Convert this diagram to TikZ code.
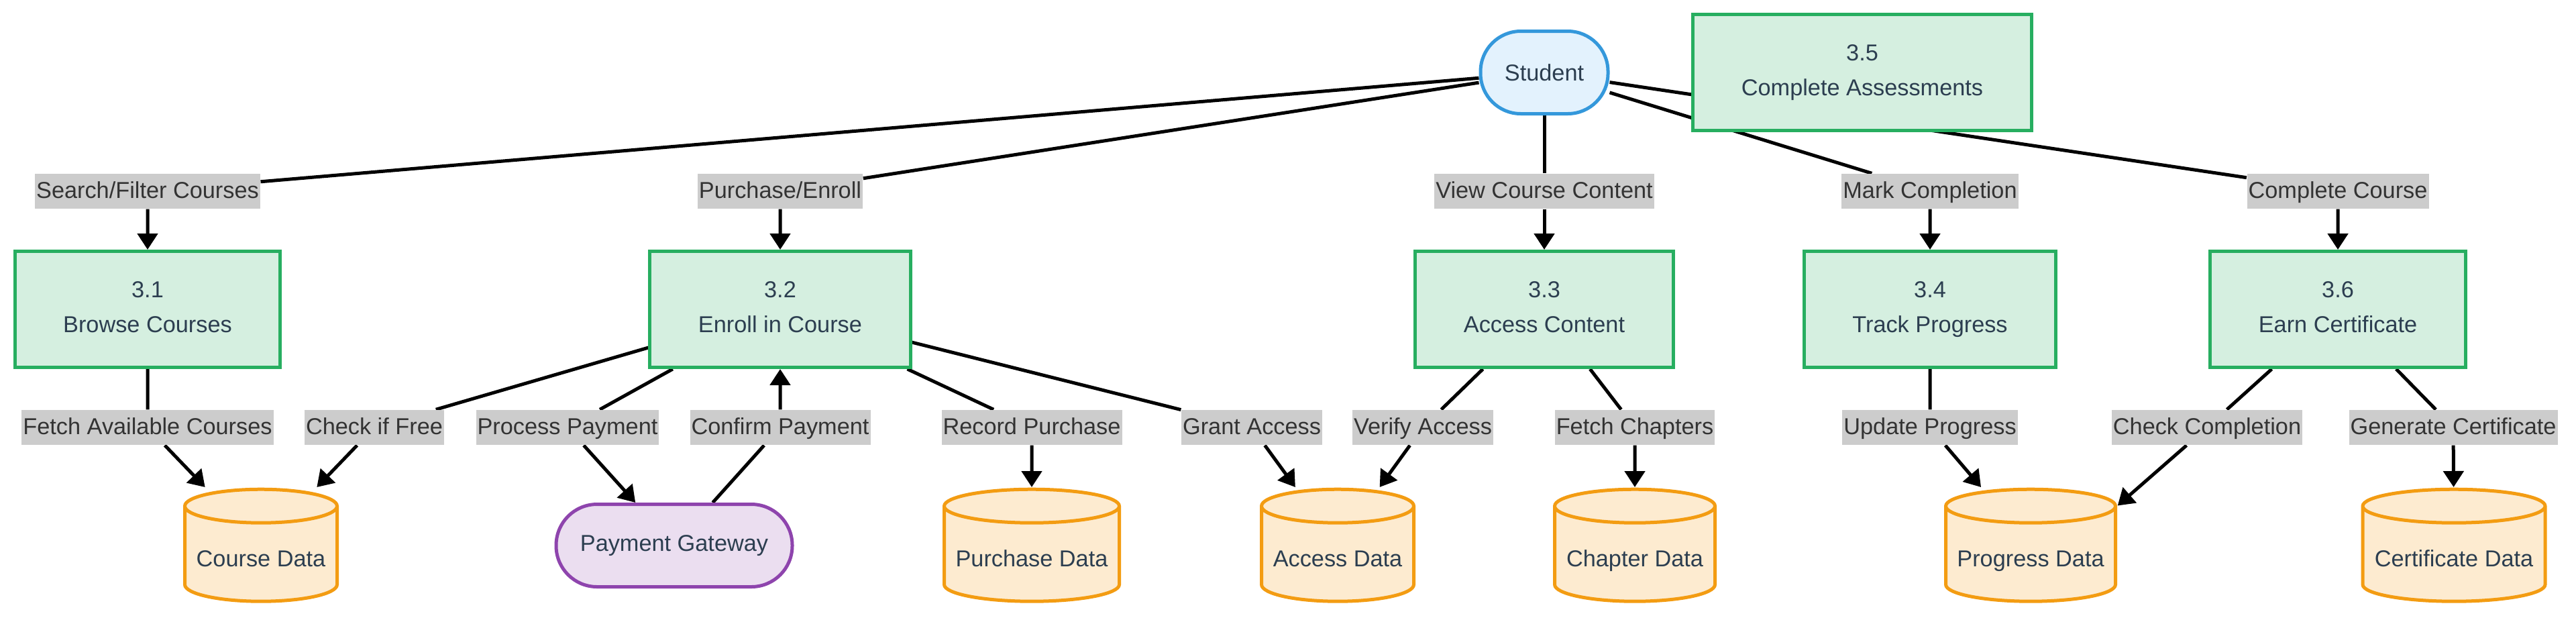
\documentclass[tikz,border=0pt]{standalone}
\usepackage{fontspec}
\setmainfont{Liberation Sans}
\usetikzlibrary{arrows.meta,backgrounds}

\definecolor{procfill}{HTML}{D5EFE0}
\definecolor{procline}{HTML}{27AE60}
\definecolor{actfill}{HTML}{E3F2FD}
\definecolor{actline}{HTML}{3498DB}
\definecolor{payfill}{HTML}{EBDEF0}
\definecolor{payline}{HTML}{8E44AD}
\definecolor{storefill}{HTML}{FDEBD0}
\definecolor{storeline}{HTML}{F39C12}
\definecolor{nodetext}{HTML}{2C3E50}
\definecolor{labelfill}{HTML}{CCCCCC}
\definecolor{labeltext}{HTML}{333333}

\begin{document}
\begin{tikzpicture}[font=\fontsize{9.76pt}{14.8pt}\selectfont]
    \tikzset{process/.style={draw=procline, fill=procfill, line width=0.5mm, text=nodetext,
                 align=center, inner xsep=7.2mm, minimum height=17.3mm,
                 execute at begin node={\rule{0pt}{4.3mm}},
                 execute at end node={\rule[-0.7mm]{0pt}{0.7mm}}},
             actor/.style={draw=actline, fill=actfill, line width=0.5mm, text=nodetext,
                 rounded corners=6mm, minimum width=19mm, minimum height=12.3mm},
             gateway/.style={draw=payline, fill=payfill, line width=0.5mm, text=nodetext,
                 rounded corners=6.1mm, minimum width=35.2mm, minimum height=12.3mm},
             % data store: drawn as a cylinder inside its box, #1 = width
             store/.style={minimum width=#1, minimum height=17.2mm, inner sep=0pt,
                 text=nodetext, text height=7mm, text depth=0.6mm, anchor=north,
                 path picture={
                     \draw[storeline, fill=storefill, line width=0.5mm]
                         ([shift={(0.25mm,-2.75mm)}]path picture bounding box.north west)
                         -- ([shift={(0.25mm,2.75mm)}]path picture bounding box.south west)
                         arc[start angle=180, end angle=360, x radius=#1/2-0.25mm, y radius=2.5mm]
                         -- ([shift={(-0.25mm,-2.75mm)}]path picture bounding box.north east)
                         arc[start angle=0, end angle=180, x radius=#1/2-0.25mm, y radius=2.5mm]
                         -- cycle
                         ([shift={(0.25mm,-2.75mm)}]path picture bounding box.north west)
                         arc[start angle=180, end angle=360, x radius=#1/2-0.25mm, y radius=2.5mm];
                 }},
             flowlabel/.style={fill=labelfill, text=labeltext, inner xsep=0.2mm,
                 inner ysep=0mm, execute at begin node=\strut},
             flow/.style={line width=0.5mm, -{Triangle[length=2.4mm, width=3mm]}}}
    \useasboundingbox (0, 0) rectangle (38.40, -9.23);

    % external entities
    \node[actor] (stu) at (23.02, -1.08) {Student};
    \node[gateway] (pay) at (10.05, -8.13) {Payment Gateway};

    % processes
    \node[process] (p31) at (2.20, -4.61) {3.1\\Browse Courses};
    \node[process] (p32) at (11.63, -4.61) {3.2\\Enroll in Course};
    \node[process] (p33) at (23.02, -4.61) {3.3\\Access Content};
    \node[process] (p34) at (28.77, -4.61) {3.4\\Track Progress};
    \node[process] (p35) at (27.76, -1.08) {3.5\\Complete Assessments};
    \node[process] (p36) at (34.85, -4.61) {3.6\\Earn Certificate};

    % data stores (top edge at the same height)
    \node[store=23.2mm] (dcourse) at (3.89, -7.26) {Course Data};
    \node[store=26.6mm] (dpurch) at (15.38, -7.26) {Purchase Data};
    \node[store=23.2mm] (daccess) at (19.94, -7.26) {Access Data};
    \node[store=24.4mm] (dchap) at (24.37, -7.26) {Chapter Data};
    \node[store=25.8mm] (dprog) at (30.27, -7.26) {Progress Data};
    \node[store=27.7mm] (dcert) at (36.58, -7.26) {Certificate Data};

    % flow labels
    \node[flowlabel] (lsearch) at (2.20, -2.85) {Search/Filter Courses};
    \node[flowlabel] (lenroll) at (11.63, -2.85) {Purchase/Enroll};
    \node[flowlabel] (lview) at (23.02, -2.85) {View Course Content};
    \node[flowlabel] (lmark) at (28.77, -2.85) {Mark Completion};
    \node[flowlabel] (lcomplete) at (34.85, -2.85) {Complete Course};
    \node[flowlabel] (lfetch) at (2.20, -6.37) {Fetch Available Courses};
    \node[flowlabel] (lfree) at (5.58, -6.37) {Check if Free};
    \node[flowlabel] (lprocess) at (8.46, -6.37) {Process Payment};
    \node[flowlabel] (lconfirm) at (11.63, -6.37) {Confirm Payment};
    \node[flowlabel] (lrecord) at (15.38, -6.37) {Record Purchase};
    \node[flowlabel] (lgrant) at (18.66, -6.37) {Grant Access};
    \node[flowlabel] (lverify) at (21.21, -6.37) {Verify Access};
    \node[flowlabel] (lchap) at (24.37, -6.37) {Fetch Chapters};
    \node[flowlabel] (lupdate) at (28.77, -6.37) {Update Progress};
    \node[flowlabel] (lcheck) at (32.90, -6.37) {Check Completion};
    \node[flowlabel] (lgen) at (36.57, -6.37) {Generate Certificate};

    \begin{scope}[on background layer]
        \draw[flow] (stu) -- (lsearch) -- (p31);
        \draw[flow] (stu) -- (lenroll) -- (p32);
        \draw[flow] (stu) -- (lview) -- (p33);
        \draw[flow] (stu) -- (lmark) -- (p34);
        \draw[flow] (stu) -- (lcomplete) -- (p36);
        \draw[flow] (p31) -- (lfetch) -- (dcourse);
        \draw[flow] (p32) -- (lfree) -- (dcourse);
        \draw[flow] (p32) -- (lprocess) -- (pay);
        \draw[flow] (pay) -- (lconfirm) -- (p32);
        \draw[flow] (p32) -- (lrecord) -- (dpurch);
        \draw[flow] (p32) -- (lgrant) -- (daccess);
        \draw[flow] (p33) -- (lverify) -- (daccess);
        \draw[flow] (p33) -- (lchap) -- (dchap);
        \draw[flow] (p34) -- (lupdate) -- (dprog);
        \draw[flow] (p36) -- (lcheck) -- ([yshift=-2.75mm]dprog.north east);
        \draw[flow] (p36) -- (lgen) -- (dcert);
    \end{scope}
\end{tikzpicture}
\end{document}
